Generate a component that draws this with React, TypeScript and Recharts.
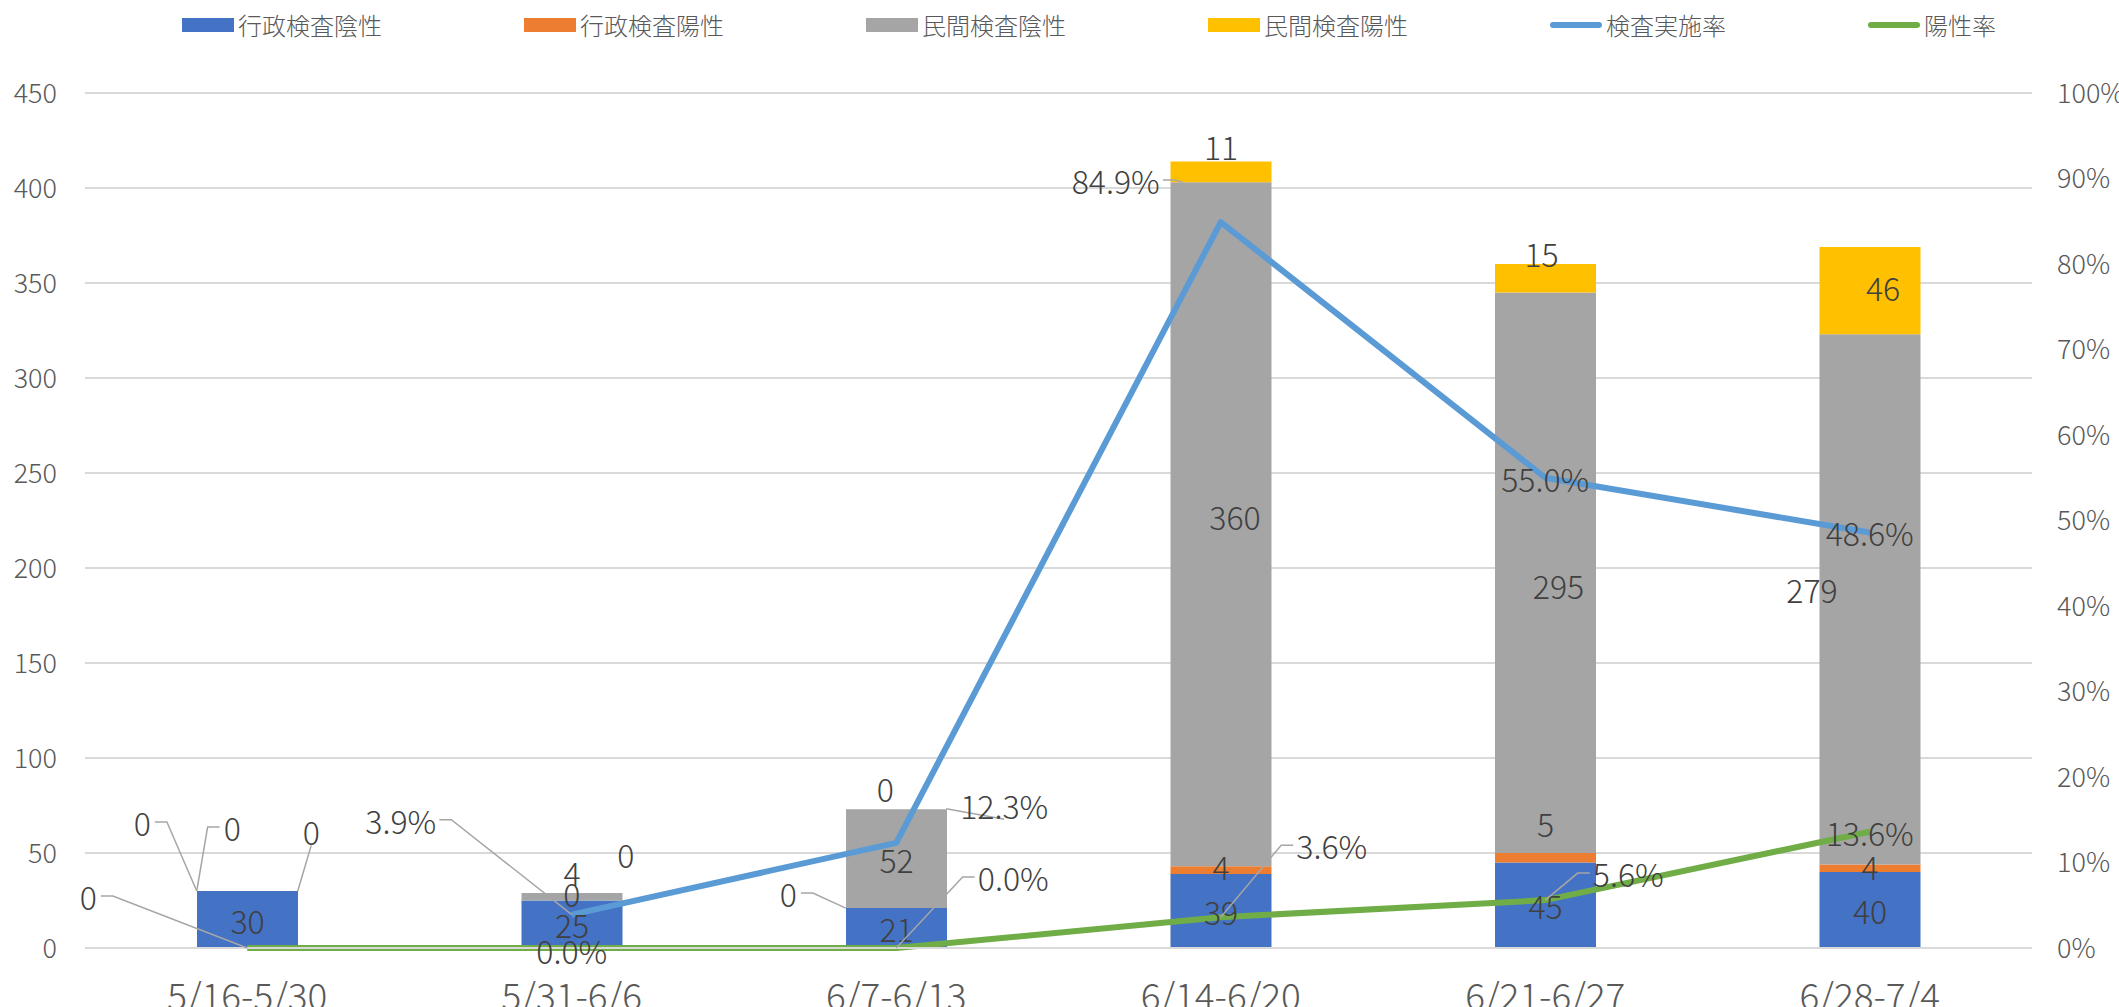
import { ComposedChart, Bar, Line, XAxis, YAxis, CartesianGrid, LabelList } from 'recharts';

// weekly test counts
const weeks = ['5/16-5/30', '5/31-6/6', '6/7-6/13', '6/14-6/20', '6/21-6/27', '6/28-7/4'];
const adminNegative = [30, 25, 21, 39, 45, 40];
const adminPositive = [0, 0, 0, 4, 5, 4];
const privateNegative = [0, 4, 52, 360, 295, 279];
const privatePositive = [0, 0, 0, 11, 15, 46];
const testRate = [null, 0.039, 0.123, 0.849, 0.55, 0.486];
const positiveRate = [0, 0, 0, 0.036, 0.056, 0.136];

const leftTicks = [0, 50, 100, 150, 200, 250, 300, 350, 400, 450];
const rightTicks = [0, 0.1, 0.2, 0.3, 0.4, 0.5, 0.6, 0.7, 0.8, 0.9, 1];

const data = weeks.map((week, i) => ({
  week,
  adminNegative: adminNegative[i],
  adminPositive: adminPositive[i],
  privateNegative: privateNegative[i],
  privatePositive: privatePositive[i],
  testRate: testRate[i],
  positiveRate: positiveRate[i],
}));

const stackKeys = ['adminNegative', 'adminPositive', 'privateNegative', 'privatePositive'];
// top of the stack up to a series, used to place labels of empty segments
const stackTop = (key: string) => (d: any) =>
  stackKeys.slice(0, stackKeys.indexOf(key) + 1).reduce((s, k) => s + d[k], 0);

const FONT = '"Noto Sans CJK JP", "Noto Sans", sans-serif';
const LABEL_SIZE = 32;
const PLOT_LEFT = 85;
const BAND = 324.5;
const BAR_W = 101;

// label placement, Excel style: [dx, dy, leader target]
type Lead = 'tl' | 'tr' | 'pt' | [number, number];
type Nudge = [number, number, Lead?] | null;
const nudges: Record<string, Nudge[]> = {
  adminNegative: [[0, 0], [0, 0], [0, 0], [0, 0], [0, 0], [0, 0]],
  adminPositive: [[-105, -69, 'tl'], [0, -8], [-108, -15, 'tl'], [0, -4], [0, -35], [0, -2]],
  privateNegative: [[-15, -64, 'tl'], [0, -25], [0, 0], [14, -8], [13, 12], [-58, -10]],
  privatePositive: [[64, -60, 'tr'], [54, -39], [-11, -21], [0, -26], [-4, -25], [13, -4]],
  testRate: [null, [-171, -95, 'pt'], [108, -38, [50, -34]], [-105, -42, [-38, -40]], [0, 0], [0, 0]],
  positiveRate: [[-159, -52, 'pt'], [0, 2], [117, -71, 'pt'], [111, -72, 'pt'], [83, -27, 'pt'], [0, 0]],
};

const pct = (v: number) => (v * 100).toFixed(1) + '%';
const int = (v: number) => String(v);

type Mode = 'bar' | 'zero' | 'line';

function makeLabel(key: string, fmt: (v: number, i: number) => string, mode: Mode) {
  return (props: any) => {
    const { value } = props;
    if (value === null || value === undefined) return null;
    const v = Number(value);
    if (mode === 'bar' && v === 0) return null;
    if (mode === 'zero' && v !== 0) return null;
    const vb = props.viewBox ?? props;
    let x = vb.x ?? props.x;
    const y = vb.y ?? props.y;
    let w = vb.width ?? props.width ?? 0;
    const h = vb.height ?? props.height ?? 0;
    if (mode === 'zero') {
      x -= BAR_W / 2;
      w = BAR_W;
    }
    const top = Math.min(y, y + h);
    const cx = x + w / 2;
    const cy = y + h / 2;
    const index = Math.floor((cx - PLOT_LEFT) / BAND);
    const n = nudges[key][index];
    if (!n) return null;
    const text = fmt(v, index);
    const lx = cx + n[0];
    const ly = cy + n[1];
    let leader = null;
    if (n[2]) {
      let tx = cx;
      let ty = cy;
      if (n[2] === 'tl') {
        tx = x;
        ty = top;
      } else if (n[2] === 'tr') {
        tx = x + w;
        ty = top;
      } else if (Array.isArray(n[2])) {
        tx = cx + n[2][0];
        ty = cy + n[2][1];
      }
      const hw = text.length * 0.27 * LABEL_SIZE;
      let pts: number[][];
      if (Math.abs(tx - lx) < hw + 16) {
        pts = [[lx, ly + LABEL_SIZE * 0.45], [tx, ty]];
      } else {
        const s = tx < lx ? -1 : 1;
        const sx = lx + s * (hw + 4);
        pts = [[sx, ly], [sx + s * 12, ly], [tx, ty]];
      }
      leader = (
        <polyline
          points={pts.map((p) => p.join(',')).join(' ')}
          fill="none"
          stroke="#A6A6A6"
          strokeWidth={1.5}
        />
      );
    }
    return (
      <g>
        {leader}
        <text
          x={lx}
          y={ly}
          textAnchor="middle"
          dominantBaseline="central"
          fontFamily={FONT}
          fontWeight={300}
          fontSize={LABEL_SIZE}
          fill="#404040"
        >
          {text}
        </text>
      </g>
    );
  };
}

const barSeries = [
  { key: 'adminNegative', color: '#4472C4' },
  { key: 'adminPositive', color: '#ED7D31' },
  { key: 'privateNegative', color: '#A5A5A5' },
  { key: 'privatePositive', color: '#FFC000' },
];

const legendItems = [
  { name: '行政検査陰性', color: '#4472C4', line: false },
  { name: '行政検査陽性', color: '#ED7D31', line: false },
  { name: '民間検査陰性', color: '#A5A5A5', line: false },
  { name: '民間検査陽性', color: '#FFC000', line: false },
  { name: '検査実施率', color: '#5B9BD5', line: true },
  { name: '陽性率', color: '#70AD47', line: true },
];

function ChartLegend() {
  return (
    <div
      style={{
        position: 'absolute',
        left: 182,
        top: 8,
        display: 'flex',
        gap: 142,
        fontFamily: FONT,
        fontWeight: 300,
        fontSize: 24,
        color: '#595959',
        lineHeight: '34px',
      }}
    >
      {legendItems.map((it) => (
        <div key={it.name} style={{ display: 'flex', alignItems: 'center', gap: 4 }}>
          <span
            style={{
              display: 'inline-block',
              width: 52,
              height: it.line ? 6 : 14,
              borderRadius: it.line ? 3 : 0,
              background: it.color,
            }}
          />
          <span>{it.name}</span>
        </div>
      ))}
    </div>
  );
}

export default function App() {
  const tick = { fontSize: 27, fill: '#595959', fontFamily: FONT, fontWeight: 300 };
  return (
    <div style={{ position: 'absolute', left: 0, top: 0, width: 2119, height: 1007, background: '#fff' }}>
      <ChartLegend />
      <ComposedChart width={2119} height={1007} data={data} margin={{ top: 93, right: 0, bottom: 0, left: 0 }}>
        <CartesianGrid vertical={false} stroke="#D9D9D9" strokeWidth={2} yAxisId="left" />
        <XAxis
          dataKey="week"
          height={59}
          tickLine={false}
          tickSize={0}
          tickMargin={36}
          axisLine={{ stroke: '#D9D9D9', strokeWidth: 2 }}
          tick={{ fontSize: 37, fill: '#595959', fontFamily: FONT, fontWeight: 300 }}
          interval={0}
        />
        <YAxis
          yAxisId="left"
          width={85}
          domain={[0, 450]}
          ticks={leftTicks}
          axisLine={false}
          tickLine={false}
          tickSize={0}
          tickMargin={28}
          tick={tick}
        />
        <YAxis
          yAxisId="right"
          orientation="right"
          width={87}
          domain={[0, 1]}
          ticks={rightTicks}
          axisLine={false}
          tickLine={false}
          tickSize={0}
          tickMargin={25}
          tick={{ ...tick, textAnchor: 'start' }}
          tickFormatter={(v: number) => Math.round(v * 100) + '%'}
        />
        {barSeries.map((s) => (
          <Bar
            key={s.key}
            dataKey={s.key}
            stackId="a"
            yAxisId="left"
            fill={s.color}
            barSize={BAR_W}
            isAnimationActive={false}
          >
            <LabelList dataKey={s.key} content={makeLabel(s.key, int, 'bar')} />
          </Bar>
        ))}
        <Line
          dataKey="testRate"
          yAxisId="right"
          type="linear"
          stroke="#5B9BD5"
          strokeWidth={6}
          strokeLinejoin="round"
          dot={false}
          activeDot={false}
          isAnimationActive={false}
        >
          <LabelList dataKey="testRate" content={makeLabel('testRate', pct, 'line')} />
        </Line>
        <Line
          dataKey="positiveRate"
          yAxisId="right"
          type="linear"
          stroke="#70AD47"
          strokeWidth={6}
          strokeLinejoin="round"
          dot={false}
          activeDot={false}
          isAnimationActive={false}
        >
          <LabelList
            dataKey="positiveRate"
            content={makeLabel('positiveRate', (v, i) => (i === 0 ? String(v) : pct(v)), 'line')}
          />
        </Line>
        {/* invisible carriers for the labels of empty (0) bar segments */}
        {barSeries.slice(1).map((s) => (
          <Line
            key={'zero-' + s.key}
            dataKey={stackTop(s.key)}
            yAxisId="left"
            stroke="none"
            dot={false}
            activeDot={false}
            legendType="none"
            isAnimationActive={false}
          >
            <LabelList dataKey={s.key} content={makeLabel(s.key, int, 'zero')} />
          </Line>
        ))}
      </ComposedChart>
    </div>
  );
}
